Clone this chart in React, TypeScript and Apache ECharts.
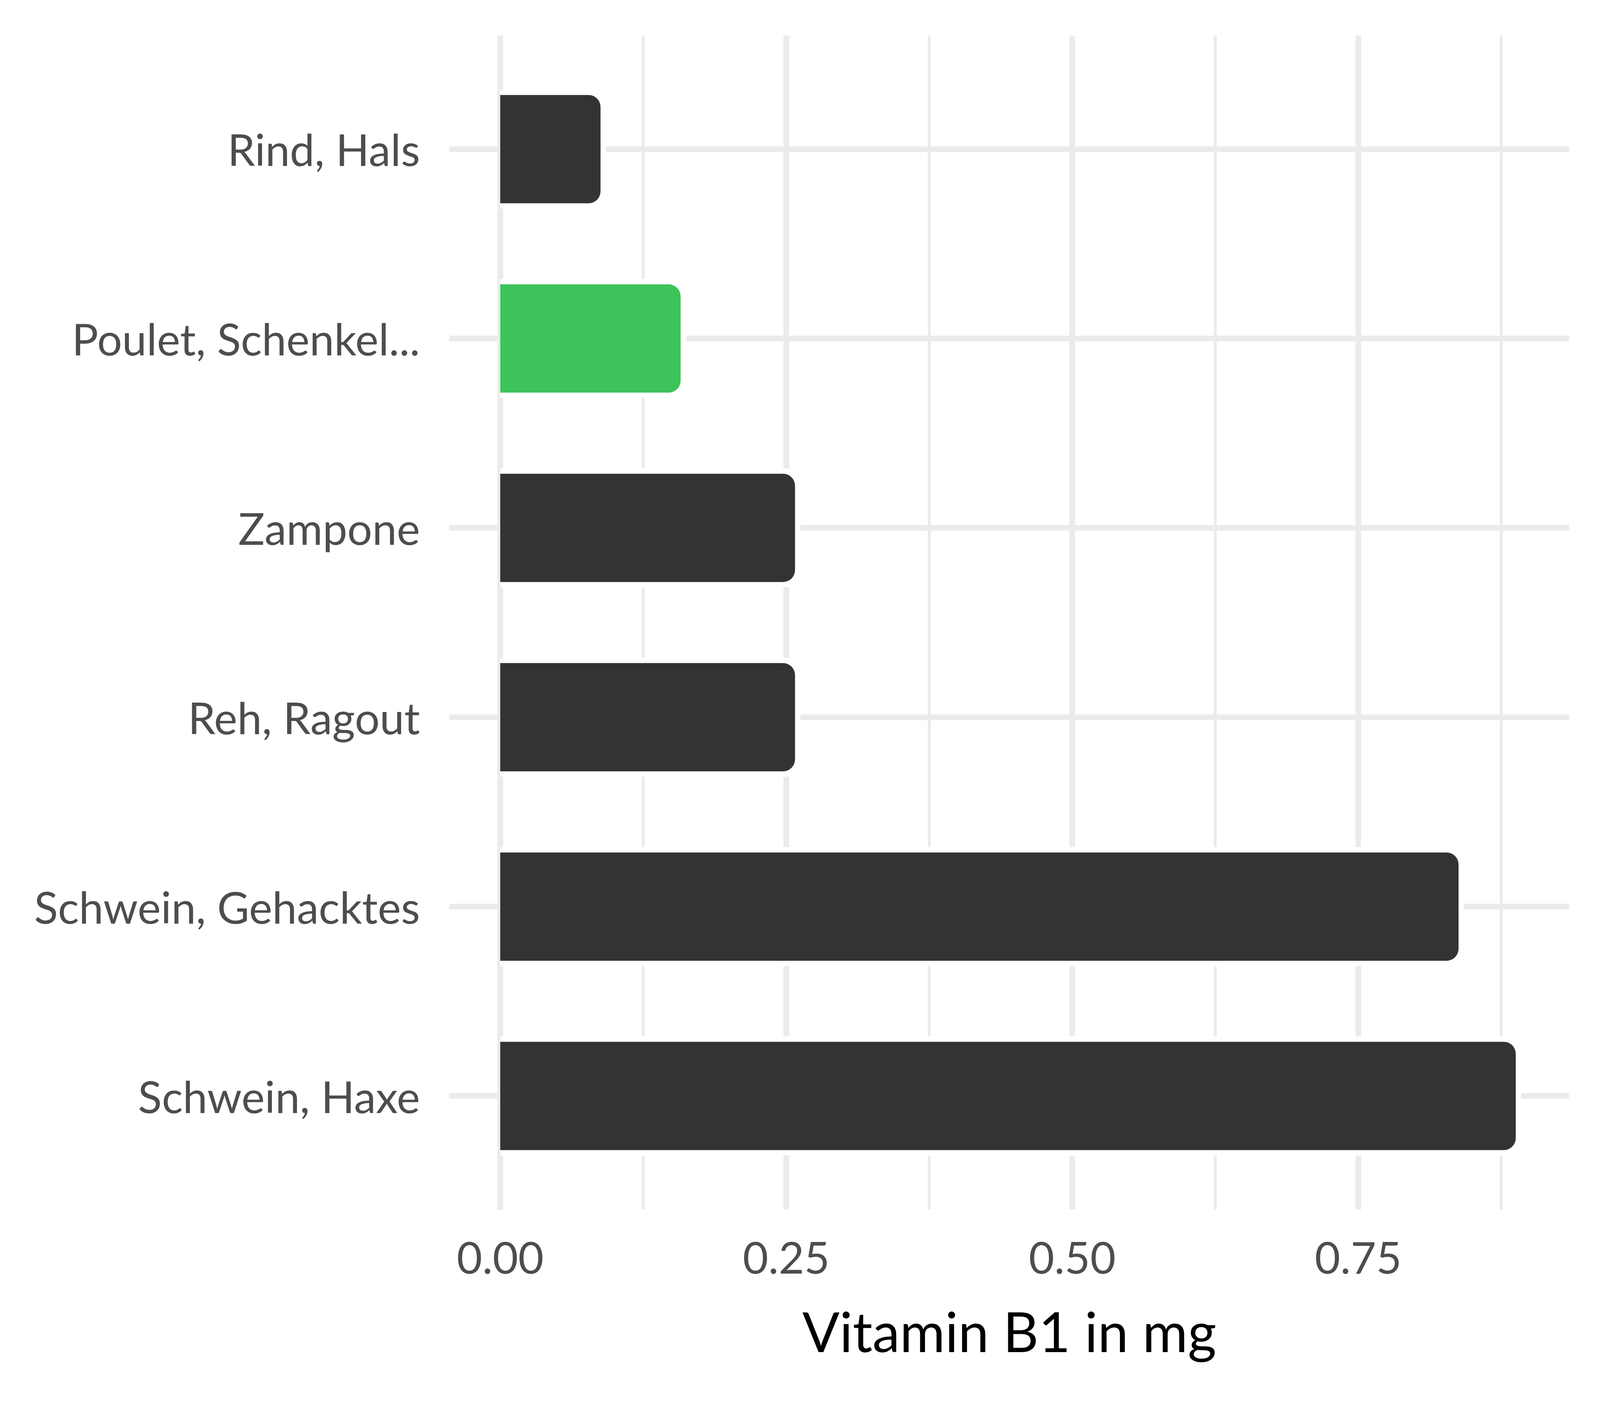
import React, { useEffect, useRef } from "react";
import * as echarts from "echarts";

// ---- data ----
const categories = [
  "Rind, Hals",
  "Poulet, Schenkel...",
  "Zampone",
  "Reh, Ragout",
  "Schwein, Gehacktes",
  "Schwein, Haxe",
];
const values = [0.09, 0.16, 0.26, 0.26, 0.84, 0.89];
const highlighted = "Poulet, Schenkel...";
const xTickLabels = [0, 0.25, 0.5, 0.75];
const xMajorGrid = [0, 0.25, 0.5, 0.75];
const xMinorGrid = [0.125, 0.375, 0.625, 0.875];
const xTitle = "Vitamin B1 in mg";

// ---- derived ----
const rows = categories.map((_, i) => i + 1);
const dataMax = Math.max(...values);
const xMin = -0.05 * dataMax;
const xMax = 1.05 * dataMax;
const yMin = 0.4;
const yMax = categories.length + 0.6;

const DARK = "#333333";
const GREEN = "#3EC35A";
const GRID = "#EBEBEB";
const TEXT = "#4D4D4D";
const FONT = "Lato";
const BASE_W = 4800;
const BASE_H = 3600;

export default function App() {
  const ref = useRef<HTMLDivElement>(null);

  useEffect(() => {
    const el = ref.current;
    if (!el) return;
    const W = el.clientWidth || BASE_W;
    const H = el.clientHeight || BASE_H;
    const kx = W / BASE_W;
    const ky = H / BASE_H;
    const k = Math.min(kx, ky);

    const chart = echarts.init(el, undefined, { renderer: "svg", width: W, height: H });

    const gridData: number[][] = [
      ...xMajorGrid.map((v) => [0, v]),
      ...xMinorGrid.map((v) => [1, v]),
      ...rows.map((r) => [2, r]),
    ];
    const barData = rows.map((r, i) => [values[i], r, i]);

    chart.setOption({
      animation: false,
      backgroundColor: "#ffffff",
      grid: {
        left: 1348 * kx,
        right: 92 * kx,
        top: 91 * ky,
        bottom: 503 * ky,
        containLabel: false,
      },
      xAxis: {
        type: "value",
        min: xMin,
        max: xMax,
        splitLine: { show: false },
        axisLine: { show: false },
        axisTick: { show: false },
        axisLabel: {
          customValues: xTickLabels,
          formatter: (v: number) => v.toFixed(2),
          color: TEXT,
          fontFamily: FONT,
          fontSize: 132 * k,
          margin: 64 * ky,
        },
        name: xTitle,
        nameLocation: "middle",
        nameGap: 240 * ky,
        nameTextStyle: { color: "#000000", fontFamily: FONT, fontSize: 165 * k },
      },
      yAxis: {
        type: "value",
        min: yMin,
        max: yMax,
        inverse: true,
        splitLine: { show: false },
        axisLine: { show: false },
        axisTick: { show: false },
        axisLabel: {
          customValues: rows,
          formatter: (v: number) => categories[Math.round(v) - 1] ?? "",
          color: TEXT,
          fontFamily: FONT,
          fontSize: 132 * k,
          margin: 88 * kx,
        },
      },
      series: [
        {
          type: "custom",
          z: 1,
          silent: true,
          data: gridData,
          encode: { x: 1, y: 1 },
          renderItem: (params: any, api: any) => {
            const kind = api.value(0);
            const v = api.value(1);
            const cs = params.coordSys;
            if (kind === 2) {
              const y = api.coord([0, v])[1];
              return {
                type: "line",
                shape: { x1: cs.x, y1: y, x2: cs.x + cs.width, y2: y },
                style: { stroke: GRID, lineWidth: 17 * k },
              };
            }
            const x = api.coord([v, 1])[0];
            return {
              type: "line",
              shape: { x1: x, y1: cs.y, x2: x, y2: cs.y + cs.height },
              style: { stroke: GRID, lineWidth: (kind === 0 ? 17 : 8.5) * k },
            };
          },
        },
        {
          type: "custom",
          z: 2,
          silent: true,
          data: barData,
          encode: { x: 0, y: 1 },
          renderItem: (params: any, api: any) => {
            const v = api.value(0);
            const r = api.value(1);
            const idx = api.value(2);
            const p0 = api.coord([0, r]);
            const p1 = api.coord([v, r]);
            const h = Math.abs(api.size([0, 0.6])[1]);
            const s = 8 * k;
            const rad = 36 * k;
            const color = categories[idx] === highlighted ? GREEN : DARK;
            return {
              type: "group",
              children: [
                {
                  type: "rect",
                  shape: {
                    x: p0[0],
                    y: p0[1] - h / 2 - s,
                    width: p1[0] - p0[0] + s,
                    height: h + 2 * s,
                    r: [0, rad + s, rad + s, 0],
                  },
                  style: { fill: "#ffffff" },
                },
                {
                  type: "rect",
                  shape: {
                    x: p0[0],
                    y: p0[1] - h / 2 + s,
                    width: p1[0] - p0[0] - s,
                    height: h - 2 * s,
                    r: [0, rad, rad, 0],
                  },
                  style: { fill: color },
                },
              ],
            };
          },
        },
      ],
    });

    return () => chart.dispose();
  }, []);

  return (
    <div
      ref={ref}
      style={{ position: "fixed", left: 0, top: 0, width: "100vw", height: "100vh" }}
    />
  );
}
